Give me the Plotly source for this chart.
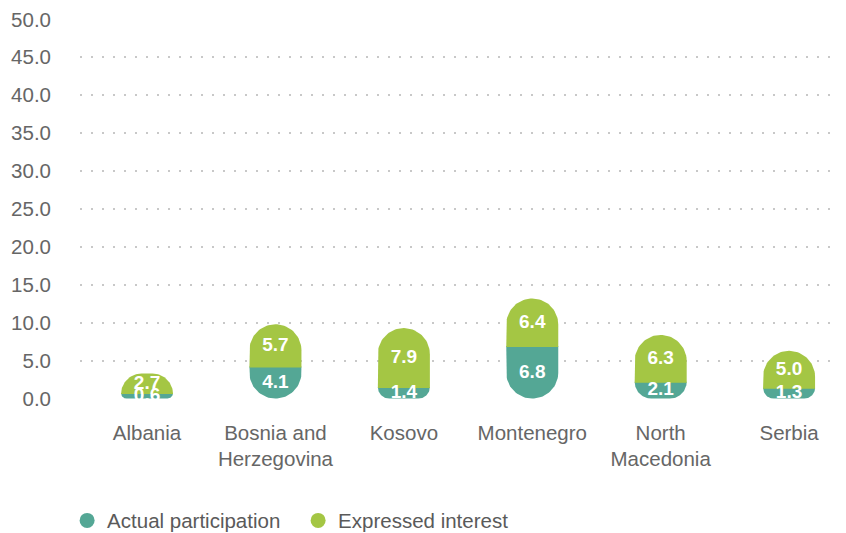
import numpy as np
import plotly.graph_objects as go

# Data
countries = ["Albania", "Bosnia and<br>Herzegovina", "Kosovo", "Montenegro", "North<br>Macedonia", "Serbia"]
actual_participation = [0.6, 4.1, 1.4, 6.8, 2.1, 1.3]
expressed_interest = [2.7, 5.7, 7.9, 6.4, 6.3, 5.0]
y_ticks = [0, 5, 10, 15, 20, 25, 30, 35, 40, 45, 50]

TEAL = "#54a795"
GREEN = "#a4c644"
FONT = "Liberation Sans, Arial, sans-serif"
TXT_SIZE = 20.5

W, H = 846, 533
M_L, M_R, M_T, M_B = 80, 8, 19, 134
Y_RANGE = [-0.05, 50.05]
X_RANGE = [-0.522, 5.381]
BAR_W = 0.405

plot_h = H - M_T - M_B
plot_w = W - M_L - M_R
py = plot_h / (Y_RANGE[1] - Y_RANGE[0])      # pixels per value unit
px = plot_w / (X_RANGE[1] - X_RANGE[0])      # pixels per category step
half_w = BAR_W / 2
max_r_px = half_w * px


def capsule_segment(xc, y0, y1, round_top):
    """Outline of one bar segment with one rounded end (the outer end of the stack)."""
    h_px = (y1 - y0) * py
    r_px = min(max_r_px, h_px)
    rx, ry = r_px / px, r_px / py
    t = np.linspace(0, np.pi / 2, 24)
    xl, xr = xc - half_w, xc + half_w
    if round_top:
        left_arc_x = xl + rx - rx * np.cos(t)
        left_arc_y = y1 - ry + ry * np.sin(t)
        right_arc_x = xr - rx + rx * np.sin(t)
        right_arc_y = y1 - ry + ry * np.cos(t)
        xs = [xl] + list(left_arc_x) + list(right_arc_x) + [xr, xl]
        ys = [y0] + list(left_arc_y) + list(right_arc_y) + [y0, y0]
    else:
        left_arc_x = xl + rx - rx * np.cos(t)
        left_arc_y = y0 + ry - ry * np.sin(t)
        right_arc_x = xr - rx + rx * np.sin(t)
        right_arc_y = y0 + ry - ry * np.cos(t)
        xs = [xl] + list(left_arc_x) + list(right_arc_x) + [xr, xl]
        ys = [y1] + list(left_arc_y) + list(right_arc_y) + [y1, y1]
    return xs, ys


fig = go.Figure()

seam = 1.0 / py  # lower segment tucks under the upper one to avoid a hairline gap
for i in range(len(countries)):
    a = actual_participation[i]
    e = expressed_interest[i]
    xs, ys = capsule_segment(i, 0.0, a + seam, round_top=False)
    fig.add_trace(go.Scatter(
        x=xs, y=ys, mode="lines", fill="toself", fillcolor=TEAL,
        line=dict(width=0, color=TEAL), showlegend=False, hoverinfo="skip",
    ))
    xs, ys = capsule_segment(i, a, a + e, round_top=True)
    fig.add_trace(go.Scatter(
        x=xs, y=ys, mode="lines", fill="toself", fillcolor=GREEN,
        line=dict(width=0, color=GREEN), showlegend=False, hoverinfo="skip",
    ))

# value labels centred on each segment
label_x = list(range(len(countries))) * 2
label_y = [a / 2 for a in actual_participation] + \
          [a + e / 2 for a, e in zip(actual_participation, expressed_interest)]
label_txt = [f"{v:.1f}" for v in actual_participation + expressed_interest]
fig.add_trace(go.Scatter(
    x=label_x, y=label_y, text=label_txt, mode="text", cliponaxis=False,
    textfont=dict(family=FONT, size=19, color="white", weight="bold"),
    showlegend=False, hoverinfo="skip",
))

# legend entries with round markers
for label, color in [("Actual participation", TEAL), ("Expressed interest", GREEN)]:
    fig.add_trace(go.Scatter(
        x=[None], y=[None], mode="markers", name=label,
        marker=dict(symbol="circle", size=15, color=color),
    ))

fig.update_layout(
    width=W, height=H,
    margin=dict(l=M_L, r=M_R, t=M_T, b=M_B, autoexpand=False),
    plot_bgcolor="white", paper_bgcolor="white",
    font=dict(family=FONT, size=TXT_SIZE, color="#666666"),
    legend=dict(
        orientation="h", x=-0.017, xanchor="left", y=-0.32, yanchor="middle",
        entrywidth=186, entrywidthmode="pixels",
        font=dict(family=FONT, size=TXT_SIZE, color="#5a5a5a"),
        itemclick=False, itemdoubleclick=False,
    ),
    xaxis=dict(
        range=X_RANGE, tickvals=list(range(len(countries))), ticktext=countries,
        showgrid=False, zeroline=False, showline=False,
        ticks="", ticklabelstandoff=19, tickfont=dict(size=TXT_SIZE, color="#666666"),
    ),
    yaxis=dict(
        range=Y_RANGE, tickvals=y_ticks, tickformat=".1f",
        showgrid=True, gridcolor="#c8c8c8", gridwidth=2, griddash="2px,9px",
        zeroline=False, showline=False, ticks="", ticklabelstandoff=28,
        tickfont=dict(size=TXT_SIZE, color="#666666"),
    ),
)

fig.write_html("out.html")
